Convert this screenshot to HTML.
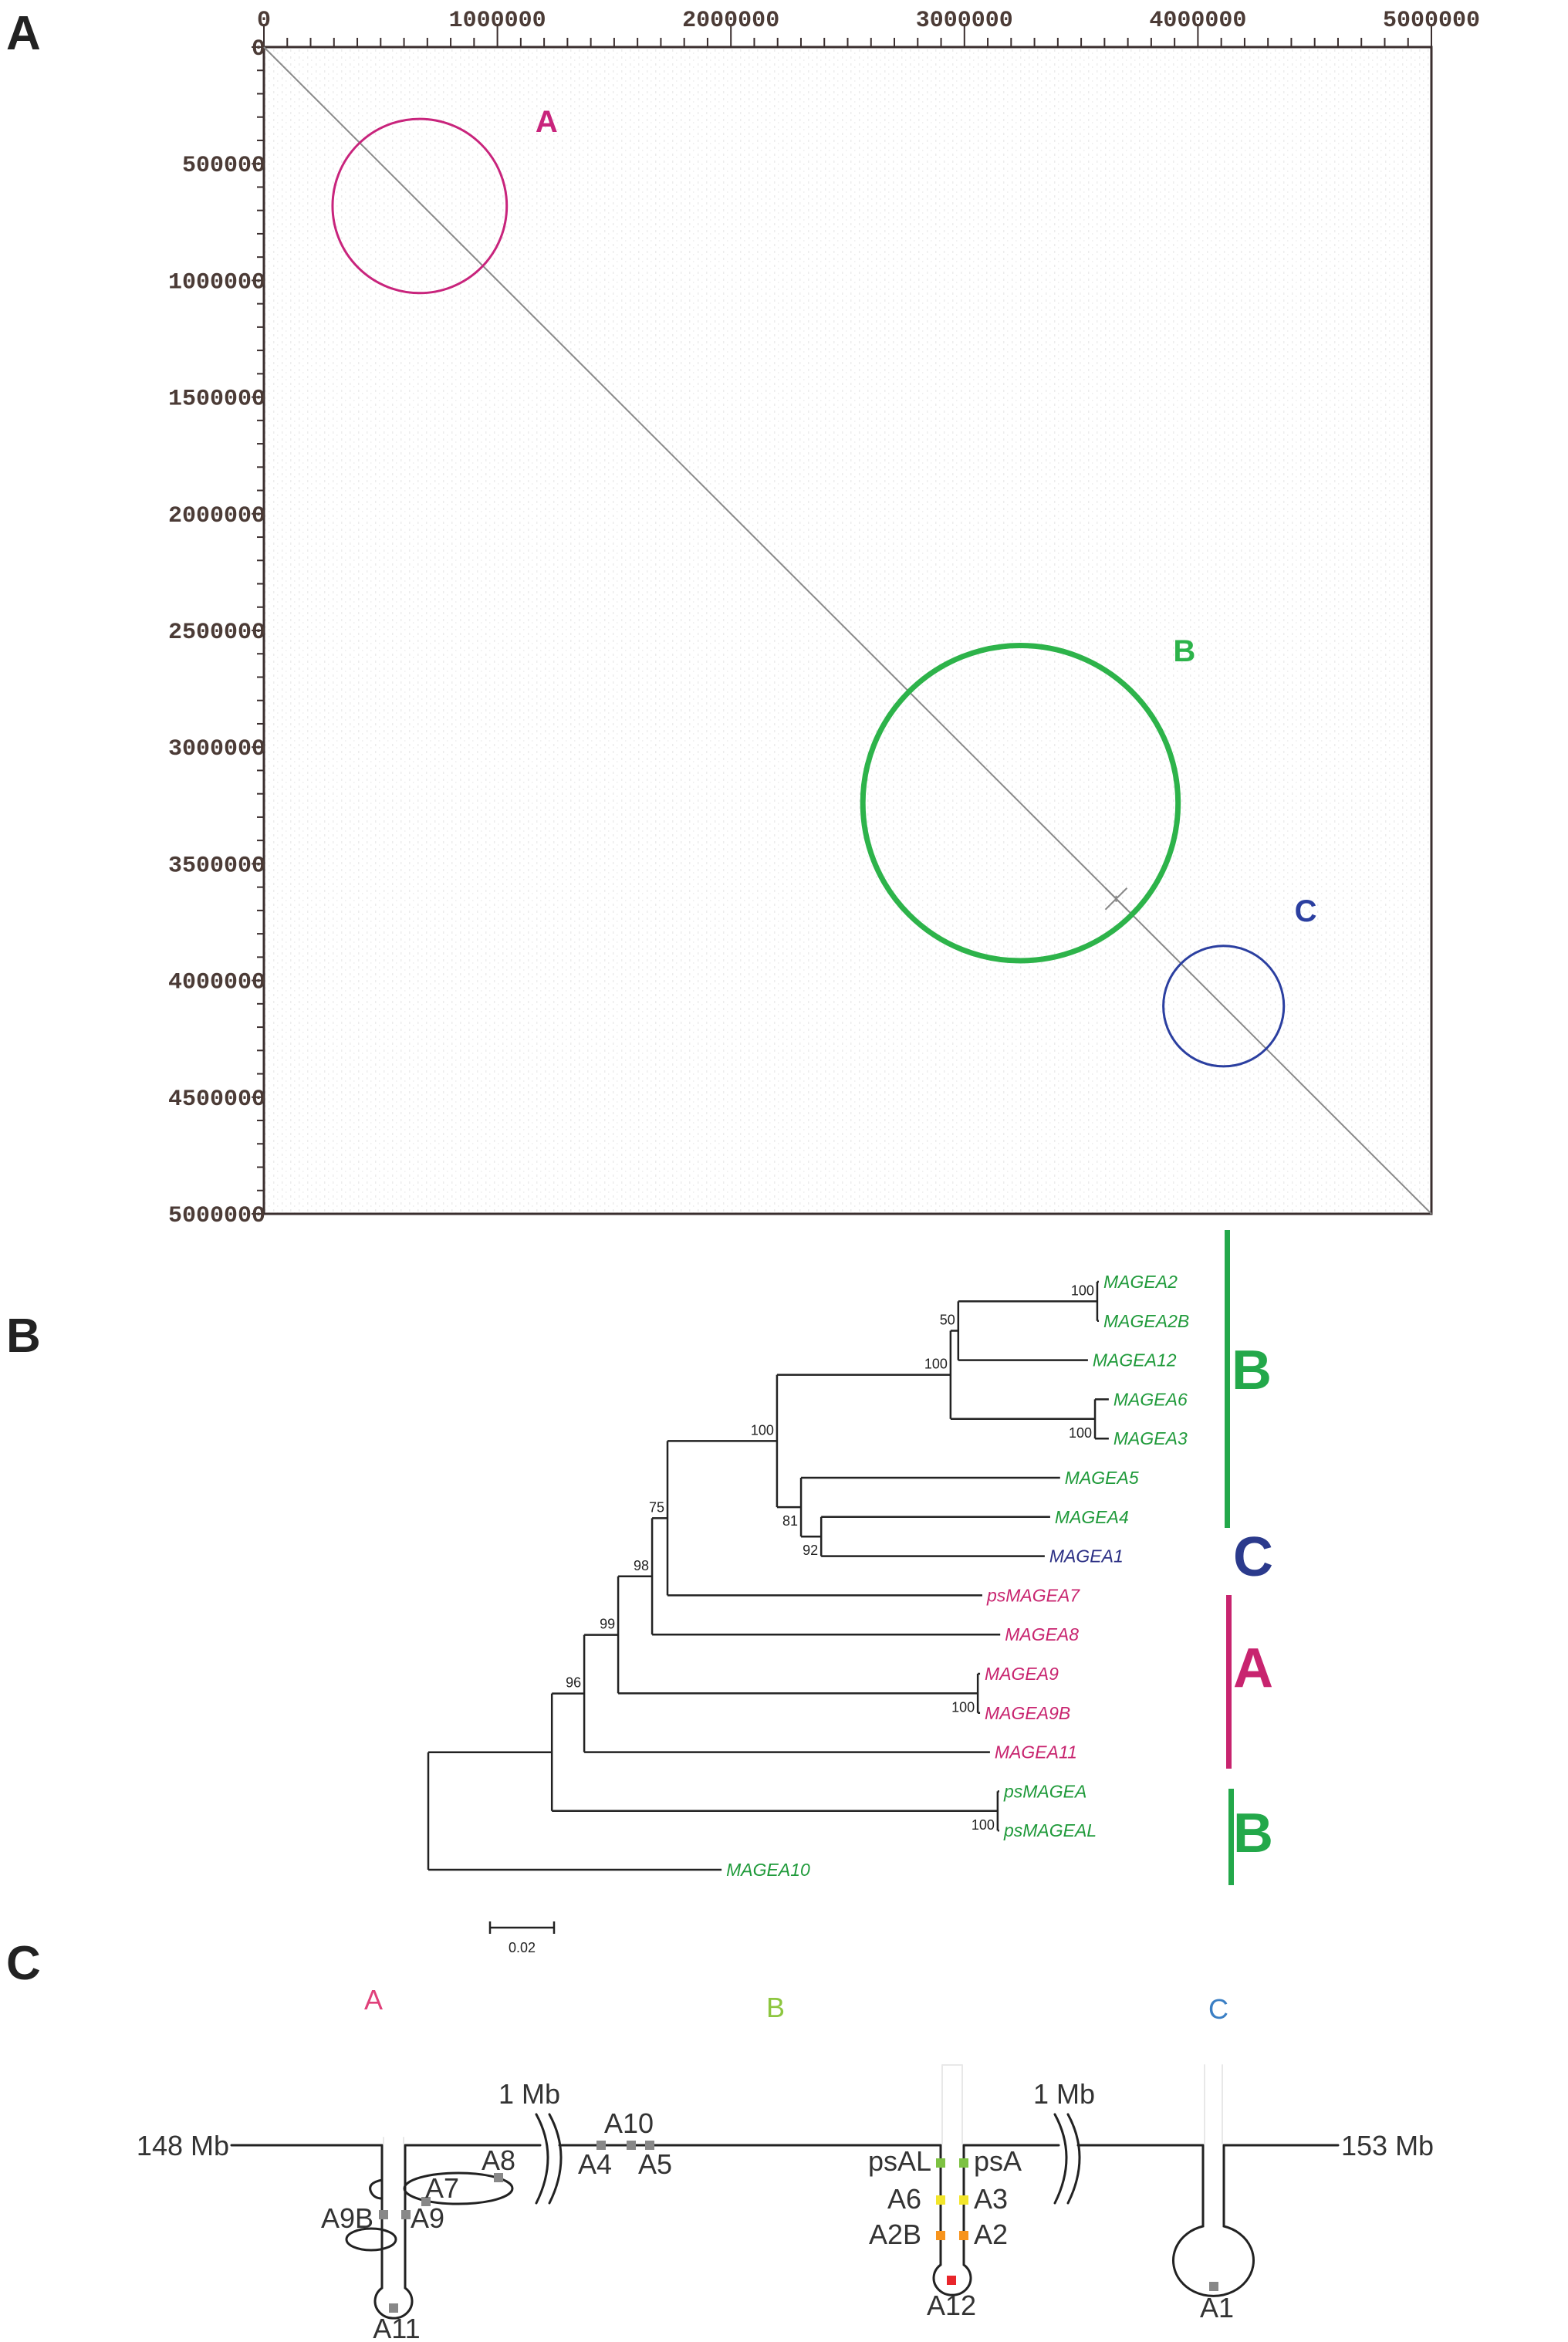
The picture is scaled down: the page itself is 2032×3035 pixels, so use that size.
<!DOCTYPE html>
<html><head><meta charset="utf-8"><style>
html,body{margin:0;padding:0;background:#fff;}
svg{display:block;}
</style></head><body>
<svg id="fig" width="2032" height="3035" viewBox="0 0 2032 3035" xmlns="http://www.w3.org/2000/svg">
<defs>
<pattern id="dots" x="0" y="0" width="11" height="9" patternUnits="userSpaceOnUse">
<rect x="2" y="1" width="1.5" height="3" fill="#aaa"/>
<rect x="7" y="5" width="1.5" height="2" fill="#bbb"/>
</pattern>
</defs>
<text x="8" y="64" font-family="Liberation Sans, sans-serif" font-weight="bold" font-size="62" fill="#222">A</text>
<text x="8" y="1752" font-family="Liberation Sans, sans-serif" font-weight="bold" font-size="62" fill="#222">B</text>
<text x="8" y="2565" font-family="Liberation Sans, sans-serif" font-weight="bold" font-size="62" fill="#222">C</text>

<g id="dotplot">
<rect x="342" y="61" width="1513" height="1512" fill="url(#dots)" opacity="0.22"/>
<g id="axes"></g>
</g>
<g id="tree"></g>

<g font-family="Liberation Sans, sans-serif" font-weight="bold">
<rect x="1587" y="1594" width="7" height="386" fill="#23a84a"/>
<text x="1596" y="1800" font-size="72" fill="#23a84a">B</text>
<text x="1598" y="2042" font-size="72" fill="#2b3a8c">C</text>
<rect x="1589" y="2067" width="7" height="225" fill="#c8246f"/>
<text x="1598" y="2186" font-size="72" fill="#c8246f">A</text>
<rect x="1592" y="2318" width="7" height="125" fill="#23a84a"/>
<text x="1598" y="2400" font-size="72" fill="#23a84a">B</text>
</g>

<g font-family="Liberation Sans, sans-serif" font-size="36" fill="#333" stroke-linecap="round">
<text x="484" y="2604" text-anchor="middle" fill="#e0407a">A</text>
<text x="1005" y="2614" text-anchor="middle" fill="#8dc63f">B</text>
<text x="1579" y="2616" text-anchor="middle" fill="#3b7fc4">C</text>
<text x="297" y="2793" text-anchor="end">148 Mb</text>
<text x="1738" y="2793">153 Mb</text>
<g fill="none" stroke="#222" stroke-width="3">
<line x1="300" y1="2780" x2="495" y2="2780"/>
<line x1="525" y1="2780" x2="700" y2="2780"/>
<line x1="725" y1="2780" x2="1219" y2="2780"/>
<line x1="1249" y1="2780" x2="1372" y2="2780"/>
<line x1="1397" y1="2780" x2="1559" y2="2780"/>
<line x1="1586" y1="2780" x2="1734" y2="2780"/>
<path d="M495 2780 V2965 A24 22 0 1 0 525 2965 V2780"/>
<ellipse cx="594" cy="2836" rx="70" ry="20"/>
<path d="M495 2825 q-20 4 -14 16 q4 8 14 8"/>
<ellipse cx="481" cy="2902" rx="32" ry="14"/>
<path d="M695 2740 q30 55 0 115"/><path d="M712 2740 q30 55 0 115"/>
<path d="M1367 2740 q30 55 0 115"/><path d="M1384 2740 q30 55 0 115"/>
<path d="M1219 2780 V2935 A24 22 0 1 0 1249 2935 V2780"/>
<path d="M1559 2780 V2885 A52 46 0 1 0 1586 2885 V2780"/>
</g>
<g stroke="#e8e8e8" stroke-width="2" fill="none">
<path d="M497 2770 V2778 M523 2770 V2778"/>
<path d="M1221 2676 V2778 M1247 2676 V2778 M1221 2676 H1247"/>
<path d="M1561 2676 V2778 M1584 2676 V2778"/>
</g>
<g fill="#888">
<rect x="773" y="2774" width="12" height="12"/><rect x="812" y="2774" width="12" height="12"/><rect x="836" y="2774" width="12" height="12"/>
<rect x="640" y="2816" width="12" height="12"/><rect x="546" y="2847" width="12" height="12"/>
<rect x="491" y="2864" width="12" height="12"/><rect x="520" y="2864" width="12" height="12"/>
<rect x="504" y="2985" width="12" height="12"/><rect x="1567" y="2957" width="12" height="12"/>
</g>
<rect x="1213" y="2797" width="12" height="12" fill="#7dc242"/><rect x="1243" y="2797" width="12" height="12" fill="#7dc242"/>
<rect x="1213" y="2845" width="12" height="12" fill="#f2e52a"/><rect x="1243" y="2845" width="12" height="12" fill="#f2e52a"/>
<rect x="1213" y="2891" width="12" height="12" fill="#f7941d"/><rect x="1243" y="2891" width="12" height="12" fill="#f7941d"/>
<rect x="1227" y="2949" width="12" height="12" fill="#e8262b"/>
<g>
<text x="686" y="2726" text-anchor="middle">1 Mb</text>
<text x="1379" y="2726" text-anchor="middle">1 Mb</text>
<text x="815" y="2764" text-anchor="middle">A10</text>
<text x="771" y="2817" text-anchor="middle">A4</text>
<text x="849" y="2817" text-anchor="middle">A5</text>
<text x="646" y="2812" text-anchor="middle">A8</text>
<text x="573" y="2848" text-anchor="middle">A7</text>
<text x="484" y="2887" text-anchor="end">A9B</text>
<text x="532" y="2887">A9</text>
<text x="514" y="3030" text-anchor="middle">A11</text>
<text x="1207" y="2813" text-anchor="end">psAL</text>
<text x="1262" y="2813">psA</text>
<text x="1194" y="2862" text-anchor="end">A6</text>
<text x="1262" y="2862">A3</text>
<text x="1194" y="2908" text-anchor="end">A2B</text>
<text x="1262" y="2908">A2</text>
<text x="1233" y="3000" text-anchor="middle">A12</text>
<text x="1577" y="3003" text-anchor="middle">A1</text>
</g>
</g>
</svg>
<script>
var axisMax = 5000000;
var majorTicks = [0,1000000,2000000,3000000,4000000,5000000];
var yTickLabels = [0,500000,1000000,1500000,2000000,2500000,3000000,3500000,4000000,4500000,5000000];
var circleCentersX = [667000, 3240000, 4110000];
var circleCentersY = [681000, 3240000, 4110000];
var circleRadii = [373000, 675000, 258000];
var circleNames = ['A','B','C'];
var circleColors = ['#c8247c','#2db34a','#2b3fa0'];
var starPos = 3650000;
var NS='http://www.w3.org/2000/svg';
var PX0=342, PX1=1855, PY0=61, PY1=1573;
function sx(v){return PX0+(PX1-PX0)*v/axisMax;}
function sy(v){return PY0+(PY1-PY0)*v/axisMax;}
function mk(tag,attrs,parent,text){var e=document.createElementNS(NS,tag);for(var k in attrs)e.setAttribute(k,attrs[k]);if(text!==undefined)e.textContent=text;parent.appendChild(e);return e;}
var ax=document.getElementById('axes');
var mono='Liberation Mono, monospace';
var fr=mk('rect',{x:PX0,y:PY0,width:PX1-PX0,height:PY1-PY0,fill:'none',stroke:'#3a2e2e','stroke-width':3},ax);


for(var t=0;t<=axisMax;t+=100000){
  var big=(t%500000===0);
  var l=mk('line',{x1:sx(t),y1:PY0,x2:sx(t),y2:PY0-(t%1000000===0?28:12),stroke:'#3a2e2e','stroke-width':2},ax);
  
  
  var l2=mk('line',{x1:PX0,y1:sy(t),x2:PX0-(big?16:9),y2:sy(t),stroke:'#3a2e2e','stroke-width':2},ax);
  
  
}
majorTicks.forEach(function(v){
  var tx=mk('text',{x:sx(v),y:34,'text-anchor':'middle','font-family':mono,'font-size':30,'font-weight':'bold',fill:'#4b3b36'},ax,String(v));
  
  
});
yTickLabels.forEach(function(v){
  var tx=mk('text',{x:PX0+2,y:sy(v)+10,'text-anchor':'end','font-family':mono,'font-size':30,'font-weight':'bold',fill:'#4b3b36'},ax,String(v));
  
  
});
var dg=mk('line',{x1:sx(0),y1:sy(0),x2:sx(axisMax),y2:sy(axisMax),stroke:'#8a8a8a','stroke-width':2},ax);


var st=mk('path',{d:'M'+(sx(starPos)-14)+' '+(sy(starPos)-14)+'l28 28m0 -28l-28 28m14 -18v8',stroke:'#888','stroke-width':2,fill:'none'},ax);


var labOff=[[150,-96],[198,-184],[92,-110]];
circleCentersX.forEach(function(c,i){
  var r=(PX1-PX0)*circleRadii[i]/axisMax;
  var cx=sx(c), cy=sy(circleCentersY[i]);
  var ce=mk('circle',{cx:cx,cy:cy,r:r,fill:'none',stroke:circleColors[i],'stroke-width':i===1?7:3},ax);
  
  
  var tx=mk('text',{x:cx+labOff[i][0],y:cy+labOff[i][1],'font-family':'Liberation Sans, sans-serif','font-size':40,'font-weight':'bold',fill:circleColors[i]},ax,circleNames[i]);
  
  
});

var tipNames=['MAGEA2','MAGEA2B','MAGEA12','MAGEA6','MAGEA3','MAGEA5','MAGEA4','MAGEA1','psMAGEA7','MAGEA8','MAGEA9','MAGEA9B','MAGEA11','psMAGEA','psMAGEAL','MAGEA10'];
var tipDepths=[0.2094,0.2094,0.2060,0.2125,0.2125,0.1973,0.1942,0.1925,0.1730,0.1786,0.1723,0.1723,0.1754,0.1783,0.1783,0.0916];
var tipGroups=['B','B','B','B','B','B','B','C','A','A','A','A','A','B','B','B'];
var nodeLeft=[0,16,3,17,6,5,19,22,23,10,24,26,13,27,29];
var nodeRight=[1,2,4,18,7,20,21,8,9,11,25,12,14,28,15];
var nodeDepths=[0.2089,0.1655,0.2082,0.1631,0.1227,0.1164,0.1089,0.0747,0.0699,0.1716,0.0593,0.0487,0.1778,0.0386,0];
var nodeSupport=['100','50','100','100','92','81','100','75','98','100','99','96','100','',''];
var supportBelow=[0,0,1,0,1,1,0,0,0,1,0,0,1,0,0];
var scaleBarValue=0.02;
var groupColors={A:'#c8246f',B:'#1f9a3a',C:'#2b2f84'};
var TX0=555, TUNIT=4150, TY0=1661, TDY=50.8;
function tx(d){return TX0+d*TUNIT;}
var tg=document.getElementById('tree');
var ny=[],nx=[];
tipNames.forEach(function(n,i){ny[i]=TY0+i*TDY;nx[i]=tx(tipDepths[i]);});
nodeLeft.forEach(function(a,k){var id=16+k;ny[id]=(ny[a]+ny[nodeRight[k]])/2;nx[id]=tx(nodeDepths[k]);});
nodeLeft.forEach(function(a,k){
  var id=16+k,b=nodeRight[k],x=nx[id];
  var p=mk('path',{d:'M'+x+' '+ny[a]+'H'+nx[a]+'M'+x+' '+ny[b]+'H'+nx[b]+'M'+x+' '+ny[a]+'V'+ny[b],stroke:'#222','stroke-width':2.5,fill:'none'},tg);
  
  
  if(nodeSupport[k]){
    var t=mk('text',{x:x-4,y:supportBelow[k]?ny[id]+24:ny[id]-8,'text-anchor':'end','font-family':'Liberation Sans, sans-serif','font-size':18,fill:'#222'},tg,nodeSupport[k]);
    
    
  }
});
tipNames.forEach(function(n,i){
  var t=mk('text',{x:nx[i]+6,y:ny[i]+8,'font-family':'Liberation Sans, sans-serif','font-size':23,'font-style':'italic',fill:groupColors[tipGroups[i]]},tg,n);
  
  
});
var sb=mk('path',{d:'M635 2490v16M635 2498H'+(635+scaleBarValue*TUNIT)+'M'+(635+scaleBarValue*TUNIT)+' 2490v16',stroke:'#222','stroke-width':2.5,fill:'none'},tg);


var sbt=mk('text',{x:635+scaleBarValue*TUNIT/2,y:2530,'text-anchor':'middle','font-family':'Liberation Sans, sans-serif','font-size':18,fill:'#222'},tg,String(scaleBarValue));


</script>
</body></html>
